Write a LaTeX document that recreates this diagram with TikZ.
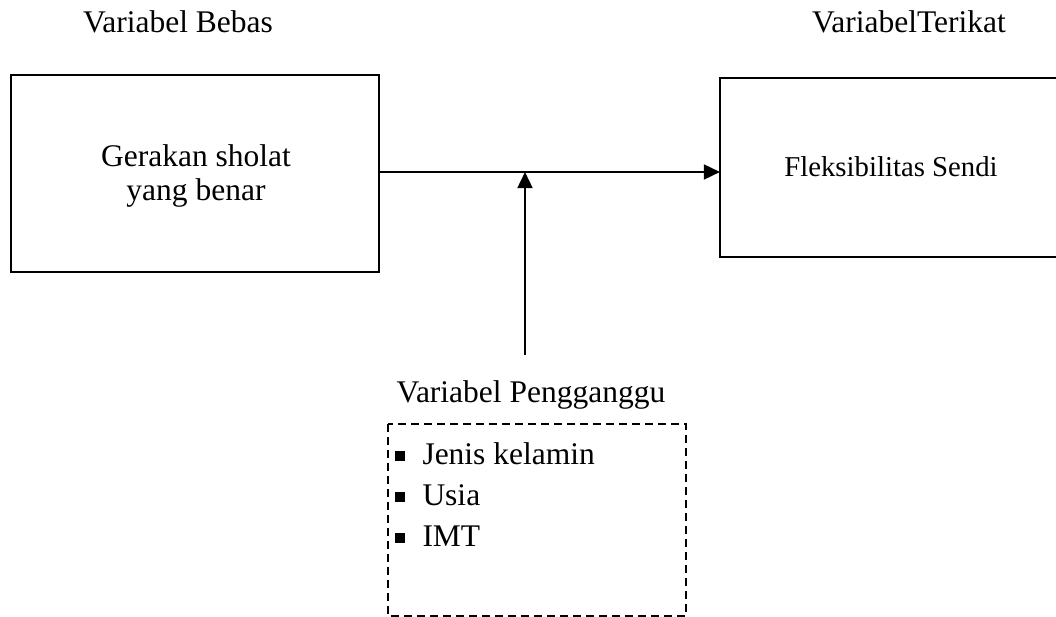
\documentclass[tikz,border=0pt]{standalone}
\usepackage{fontspec}
\setmainfont{Liberation Serif}
\usetikzlibrary{arrows.meta}
\begin{document}
\begin{tikzpicture}[x=0.4pt,y=-0.4pt,
  every node/.style={font=\fontsize{12.6}{13.6}\selectfont, inner sep=0pt},
  small/.style={font=\fontsize{11.5}{13.6}\selectfont},
  box/.style={draw, line width=0.9pt},
  conn/.style={line width=0.9pt, -{Triangle[length=6.5pt,width=6pt]}},
  bul/.style={fill=black, minimum size=3.8pt, inner sep=0pt, draw=none}]
\useasboundingbox (0,0) rectangle (1056,617);
\node[anchor=base] (lblA) at (178,33) {Variabel Bebas};
\node[anchor=base] (lblB) at (909,33) {VariabelTerikat};
\draw[box] (11,75) rectangle (379,272);
\node[align=center, anchor=base] (gerak) at (196,201) {Gerakan sholat\\yang benar};
\coordinate (bxE) at (379,172);
\draw[box] (720,78) rectangle (1070,257);
\node[small, anchor=base] (flex) at (891,177) {Fleksibilitas Sendi};
\coordinate (flW) at (720,172);
\draw[conn] (bxE) -- (flW);
\coordinate (vtop) at (525,172);
\coordinate (vbot) at (525,355);
\draw[conn] (vbot) -- (vtop);
\node[anchor=base] (lblC) at (531,403) {Variabel Pengganggu};
\draw[line width=0.6pt, dash pattern=on 3.2pt off 2pt] (388,424) rectangle (686,616);
\node[bul] (b1) at (400,456) {};
\node[anchor=base west] (t1) at (422,465) {Jenis kelamin};
\node[bul] (b2) at (400,497) {};
\node[anchor=base west] (t2) at (422,506) {Usia};
\node[bul] (b3) at (400,538) {};
\node[anchor=base west] (t3) at (422,547) {IMT};
\end{tikzpicture}
\end{document}
